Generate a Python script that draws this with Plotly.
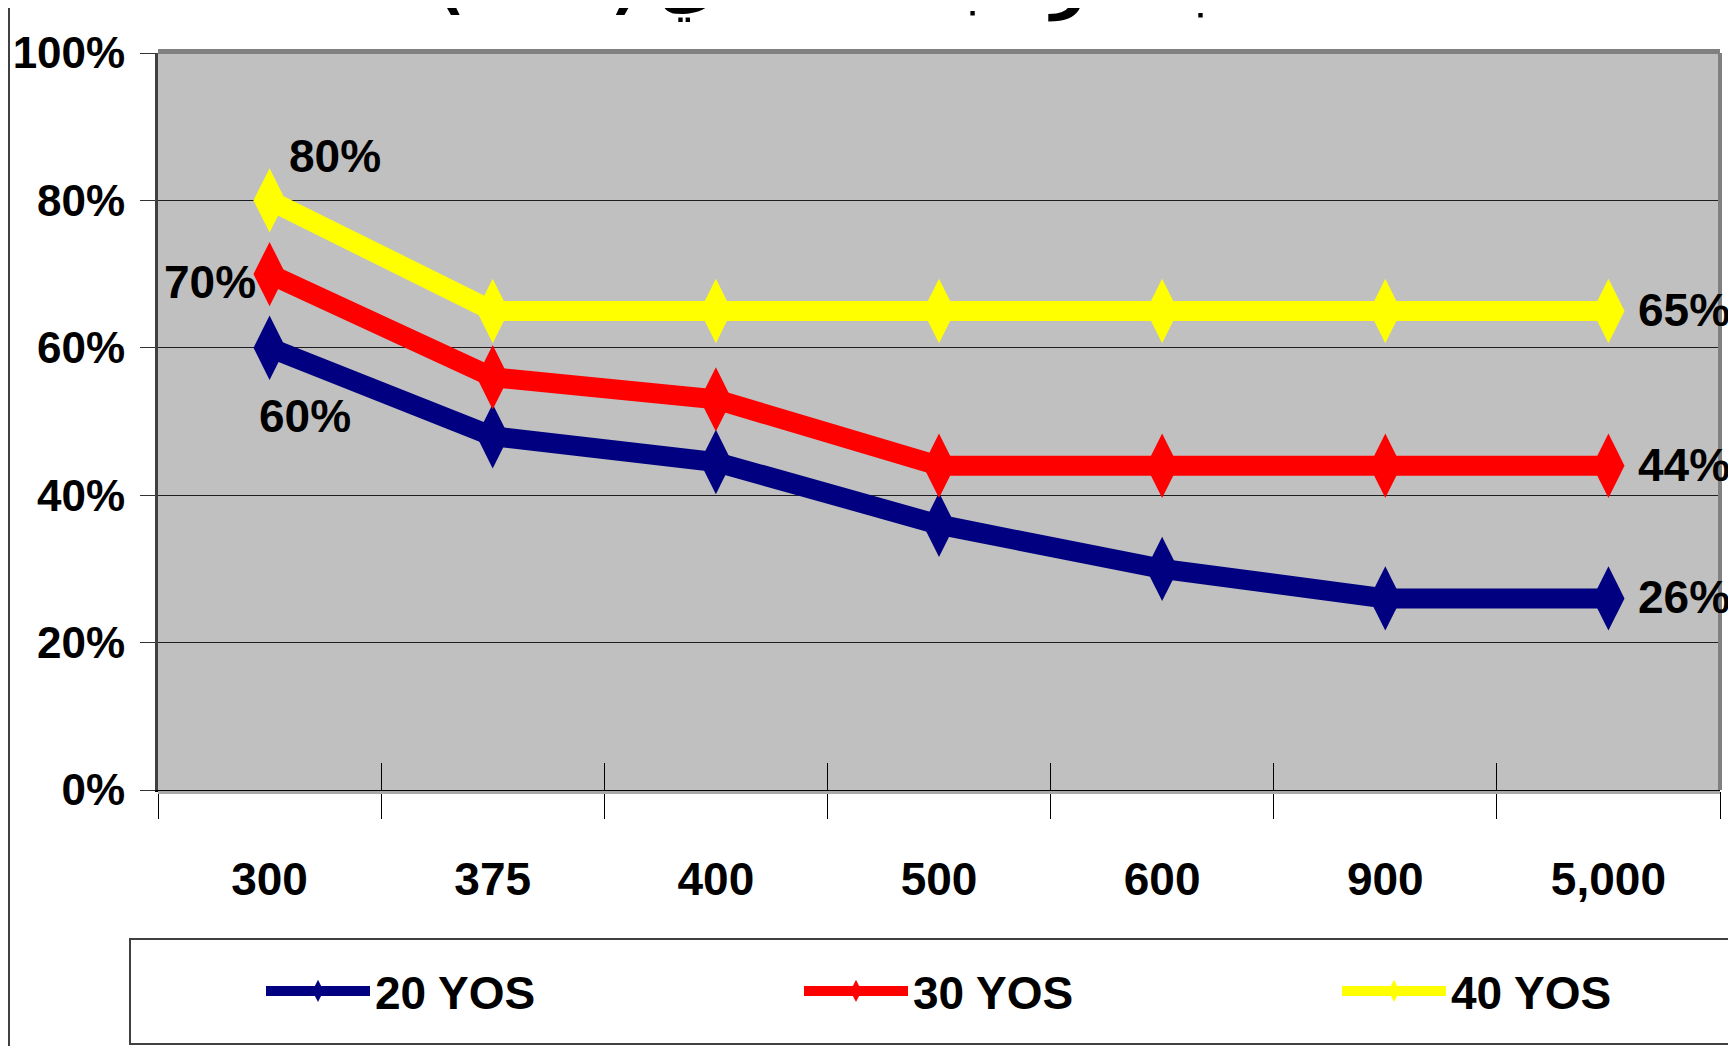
import plotly.graph_objects as go

# ---- data ----
categories = ["300", "375", "400", "500", "600", "900", "5,000"]
yos20 = [60, 48, 44.5, 36, 30, 26, 26]
yos30 = [70, 56, 53, 44, 44, 44, 44]
yos40 = [80, 65, 65, 65, 65, 65, 65]
series_names = ["20 YOS", "30 YOS", "40 YOS"]
series_colors = ["#000080", "#FF0000", "#FFFF00"]
y_ticks = [0, 20, 40, 60, 80, 100]
y_ticktext = [f"{v}%" for v in y_ticks]
title_text = "نسبة الراتب التقاعدي (١٥٠٠)"

FONT = "Liberation Sans, Arial, sans-serif"
FS = 46

W, H = 1736, 1046
OFF = 8  # page body margin in the browser
# plot area in screen pixels
PL, PT, PR, PB = 158, 53, 1720, 790
ML, MT = PL - OFF, PT - OFF
MR, MB = W - (PR - OFF), H - (PB - OFF)
PW, PH = PR - PL, PB - PT


def px_x(p):
    return (p - PL) / PW


def px_y(p):
    return (PB - p) / PH


legend_ids = ["legend", "legend2", "legend3"]
legend_left_px = [261, 799, 1337]

fig = go.Figure()
for name, vals, col, lid in zip(series_names, [yos20, yos30, yos40], series_colors, legend_ids):
    fig.add_trace(go.Scatter(
        x=categories, y=vals, name=name, mode="lines+markers",
        line=dict(color=col, width=20),
        marker=dict(symbol="diamond-tall", size=46, color=col),
        cliponaxis=False, legend=lid,
    ))

# invisible helper trace for the inside tick marks axis
fig.add_trace(go.Scatter(x=categories, y=yos20, xaxis="x2", yaxis="y",
                         mode="lines", opacity=0, showlegend=False, hoverinfo="skip"))

ann_font = dict(family=FONT, size=FS, color="black", weight="bold")
first, last = 0, len(categories) - 1
annotations = [
    dict(x=first, y=yos40[0], text=f"{yos40[0]:.0f}%", xanchor="left", yanchor="middle",
         xshift=17, yshift=44),
    dict(x=first, y=yos30[0], text=f"{yos30[0]:.0f}%", xanchor="right", yanchor="middle",
         xshift=-12, yshift=-8),
    dict(x=first, y=yos20[0], text=f"{yos20[0]:.0f}%", xanchor="left", yanchor="middle",
         xshift=-13, yshift=-68),
]
for vals in [yos40, yos30, yos20]:
    annotations.append(dict(x=last, y=vals[-1], text=f"{vals[-1]:.0f}%",
                            xanchor="left", yanchor="middle", xshift=28, yshift=1))
for a in annotations:
    a.update(xref="x", yref="y", showarrow=False, font=ann_font)

annotations.append(dict(
    x=px_x(866), y=px_y(24), xref="paper", yref="paper", xanchor="center", yanchor="bottom",
    text=title_text, showarrow=False,
    font=dict(family="DejaVu Sans", size=60, color="black", weight="bold")))

shapes = [
    # top border of plot area
    dict(type="rect", xref="paper", yref="paper", x0=0, x1=1, ysizemode="pixel", yanchor=1,
         y0=-1, y1=4, fillcolor="#808080", line=dict(width=0), layer="above"),
    # right border
    dict(type="rect", yref="paper", xref="paper", y0=0, y1=1, xsizemode="pixel", xanchor=1,
         x0=-2, x1=2, fillcolor="#808080", line=dict(width=0), layer="above"),
    # shadow under x axis
    dict(type="rect", xref="paper", yref="paper", x0=0, x1=1, ysizemode="pixel", yanchor=0,
         y0=-4, y1=-1, fillcolor="#A8A8A8", line=dict(width=0), layer="above"),
    # legend box
    dict(type="rect", xref="paper", yref="paper", x0=px_x(130), x1=px_x(1760),
         y0=px_y(1044), y1=px_y(939), line=dict(color="#404040", width=2), fillcolor="rgba(0,0,0,0)"),
    # outer chart frame, left side
    dict(type="line", xref="paper", yref="paper", x0=px_x(9), x1=px_x(9),
         y0=px_y(-5), y1=px_y(1060), line=dict(color="#404040", width=2)),
]

legend_common = dict(orientation="h", xanchor="left", y=px_y(991), yanchor="middle",
                     itemwidth=104, bgcolor="rgba(0,0,0,0)", borderwidth=0,
                     font=dict(family=FONT, size=FS, color="black", weight="bold"),
                     itemsizing="trace")
legend_layout = {}
for lid, lx in zip(legend_ids, legend_left_px):
    legend_layout[lid] = dict(legend_common, x=px_x(lx))

fig.update_layout(
    width=W, height=H,
    margin=dict(l=ML, r=MR, t=MT, b=MB, pad=0, autoexpand=False),
    paper_bgcolor="white", plot_bgcolor="#C0C0C0",
    font=dict(family=FONT, size=FS, color="black", weight="bold"),
    showlegend=True,
    xaxis=dict(type="category", categoryorder="array", categoryarray=categories,
               range=[-0.5, 6.5], showgrid=False, zeroline=False,
               showline=True, linecolor="black", linewidth=2,
               ticks="outside", ticklen=27, tickwidth=1, tickcolor="black",
               tickson="boundaries", ticklabelstandoff=48, automargin=False,
               tickfont=dict(family=FONT, size=FS, color="black", weight="bold")),
    xaxis2=dict(type="category", categoryorder="array", categoryarray=categories,
                overlaying="x", matches="x", anchor="y", side="bottom",
                showgrid=False, zeroline=False, showline=False,
                ticks="inside", ticklen=27, tickwidth=1, tickcolor="black",
                tickson="boundaries", showticklabels=False),
    yaxis=dict(range=[0, 100], tickvals=y_ticks, ticktext=y_ticktext,
               showgrid=True, gridcolor="#1e1e1e", gridwidth=1, zeroline=False,
               showline=True, linecolor="#404040", linewidth=3,
               ticks="outside", ticklen=15, tickwidth=1, tickcolor="#333333",
               ticklabelstandoff=6, automargin=False,
               tickfont=dict(family=FONT, size=44, color="black", weight="bold")),
    annotations=annotations,
    shapes=shapes,
    **legend_layout,
)

fig.write_html("out.html")
